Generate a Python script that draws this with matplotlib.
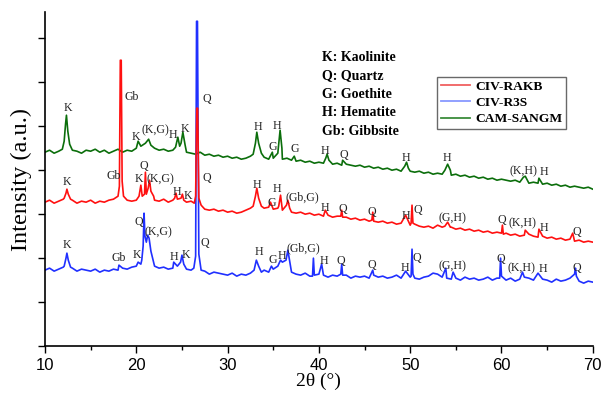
import numpy as np
import matplotlib
matplotlib.use('Agg')
import matplotlib.pyplot as plt
from matplotlib.lines import Line2D

# 2-theta grid for the baseline readings (every 0.5 deg)
two_theta = np.arange(10.0, 70.01, 0.5)

# baselines (arbitrary units, traces already offset)
green_base = [194, 196, 193, 195, 197, 194, 196, 195, 193, 196,
              195, 197, 194, 196, 193, 195, 197, 194, 196, 195,
              198, 200, 203, 201, 198, 196, 197, 195, 196, 199,
              197, 194, 193, 192, 194, 191, 192, 190, 191, 189,
              190, 188, 189, 187, 188, 190, 187, 188, 189, 187,
              188, 186, 187, 188, 186, 185, 186, 184, 185, 183,
              184, 183, 184, 182, 183, 181, 182, 181, 180, 181,
              179, 180, 178, 179, 177, 178, 176, 177, 175, 176,
              175, 174, 175, 173, 174, 172, 173, 172, 173, 171,
              172, 170, 171, 169, 170, 168, 169, 167, 168, 166,
              167, 166, 165, 166, 164, 165, 163, 164, 163, 162,
              163, 161, 162, 160, 161, 159, 160, 159, 158, 159,
              157]
red_base = [144, 146, 143, 145, 147, 144, 146, 143, 145, 144,
            146, 143, 145, 144, 146, 147, 145, 144, 146, 145,
            146, 148, 150, 147, 146, 145, 147, 144, 146, 148,
            146, 144, 145, 140, 138, 137, 136, 137, 135, 136,
            134, 135, 133, 134, 136, 138, 137, 140, 138, 139,
            137, 138, 136, 137, 134, 133, 134, 132, 133, 131,
            132, 130, 131, 129, 130, 128, 129, 127, 128, 126,
            127, 125, 126, 124, 125, 123, 124, 122, 123, 122,
            121, 122, 120, 119, 120, 118, 121, 119, 118, 119,
            117, 118, 116, 117, 115, 116, 114, 115, 113, 114,
            112, 113, 111, 112, 110, 111, 112, 110, 109, 110,
            108, 109, 107, 108, 106, 107, 105, 106, 104, 105,
            104]
blue_base = [76, 78, 75, 77, 79, 76, 78, 75, 77, 76,
             75, 77, 74, 76, 75, 77, 76, 78, 77, 79,
             80, 82, 88, 86, 80, 78, 79, 77, 78, 80,
             80, 77, 76, 74, 73, 75, 72, 74, 73, 72,
             71, 73, 70, 72, 71, 73, 76, 78, 76, 74,
             77, 80, 84, 78, 74, 72, 71, 73, 70, 71,
             72, 71, 69, 71, 70, 69, 71, 68, 70, 69,
             70, 68, 71, 69, 70, 68, 69, 71, 68, 70,
             69, 68, 67, 69, 70, 73, 72, 69, 68, 67,
             68, 66, 69, 67, 68, 66, 67, 69, 66, 68,
             67, 66, 68, 65, 67, 69, 68, 66, 65, 67,
             66, 64, 67, 65, 66, 68, 67, 65, 63, 65,
             64]

# peaks: each is a list of (2theta, intensity)
green_peaks = [
    [(11.9, 197), (12.1, 205), (12.25, 222), (12.35, 231), (12.5, 215), (12.7, 202), (12.9, 198)],
    [(20.2, 205)], [(21.35, 207), (21.6, 201)],
    [(24.3, 199), (24.55, 209), (24.75, 200)],
    [(24.9, 203), (25.1, 214), (25.35, 201)],
    [(32.8, 192), (33.05, 203), (33.2, 214), (33.4, 203), (33.7, 193)],
    [(34.9, 194)],
    [(35.5, 193), (35.75, 216), (35.95, 198)],
    [(37.3, 190)],
    [(40.75, 188), (40.9, 192), (41.1, 186)],
    [(42.6, 186)],
    [(49.4, 180), (49.6, 184), (49.8, 178)],
    [(53.8, 176), (54.1, 182), (54.4, 176)],
    [(62.4, 169), (62.6, 170)],
    [(64.1, 168)],
]
red_peaks = [
    [(12.1, 148), (12.3, 153), (12.4, 157), (12.55, 152), (12.8, 147)],
    [(18.0, 150), (18.15, 160), (18.25, 286), (18.35, 286), (18.45, 165), (18.6, 150)],
    [(20.3, 150), (20.5, 161), (20.65, 150), (20.9, 152), (21.0, 174), (21.1, 152),
     (21.3, 158), (21.45, 166), (21.6, 155), (21.9, 150)],
    [(24.2, 148), (24.35, 153), (24.5, 147)],
    [(24.9, 148), (25.05, 152), (25.2, 146)],
    [(26.35, 143), (26.5, 150), (26.62, 238), (26.72, 238), (26.85, 148), (27.1, 141)],
    [(32.8, 140), (33.05, 150), (33.2, 158), (33.4, 148), (33.7, 140)],
    [(34.7, 144)],
    [(35.6, 140), (35.8, 151), (35.95, 140)],
    [(36.45, 141), (36.6, 146), (36.8, 138)],
    [(40.7, 136)],
    [(42.4, 130), (42.5, 136), (42.6, 129)],
    [(45.8, 126), (45.9, 134), (46.0, 125)],
    [(49.5, 131)],
    [(50.1, 123), (50.2, 141), (50.3, 123)],
    [(53.8, 120), (54.1, 124), (54.4, 119)],
    [(60.0, 113), (60.1, 121), (60.2, 112)],
    [(62.6, 116)],
    [(64.1, 117)],
    [(67.8, 113)],
]
blue_peaks = [
    [(12.1, 80), (12.3, 88), (12.4, 93), (12.55, 86), (12.8, 79)],
    [(18.1, 81)],
    [(20.2, 84)],
    [(20.6, 86), (20.75, 100), (20.85, 133), (20.95, 110), (21.1, 104), (21.25, 111),
     (21.4, 108), (21.6, 95), (21.9, 84)],
    [(24.1, 84)],
    [(24.85, 84), (25.0, 91), (25.2, 82)],
    [(26.3, 78), (26.5, 90), (26.6, 325), (26.7, 325), (26.85, 92), (27.1, 76)],
    [(32.9, 76), (33.15, 86), (33.4, 80), (33.7, 74)],
    [(34.8, 80)],
    [(35.8, 86)],
    [(36.4, 86), (36.6, 96), (36.85, 82)],
    [(39.3, 70), (39.4, 88), (39.5, 71)],
    [(40.3, 82)],
    [(42.4, 72), (42.5, 82), (42.6, 71)],
    [(45.9, 76)],
    [(49.5, 75)],
    [(50.1, 70), (50.2, 97), (50.3, 72)],
    [(53.9, 78)], [(54.7, 74)],
    [(59.8, 68), (59.9, 88), (60.0, 70)],
    [(62.3, 74)],
    [(64.0, 73)],
    [(68.0, 72), (68.1, 78), (68.2, 70)],
]

# phase labels: (2theta, intensity, text)
green_labels = [(12.5, 238, 'K'), (19.9, 209, 'K'), (22.1, 216, '(K,G)'), (24.0, 211, 'H'),
                (25.35, 217, 'K'), (33.35, 219, 'H'), (34.9, 199, 'G'), (35.4, 220, 'H'),
                (37.4, 197, 'G'), (40.7, 195, 'H'), (42.7, 191, 'Q'), (49.5, 188, 'H'),
                (54.0, 188, 'H'), (62.4, 175, '(K,H)'), (64.7, 174, 'H')]
red_labels = [(19.5, 249, 'Gb'), (27.75, 247, 'Q'), (12.4, 164, 'K'), (17.55, 170, 'Gb'),
              (20.3, 167, 'K'), (20.85, 180, 'Q'), (22.6, 167, '(K,G)'), (24.5, 154, 'H'),
              (25.6, 150, 'K'), (27.75, 168, 'Q'), (33.2, 161, 'H'), (34.8, 143, 'G'),
              (35.4, 157, 'H'), (38.2, 149, '(Gb,G)'), (40.7, 138, 'H'), (42.6, 137, 'Q'),
              (45.85, 134, 'Q'), (49.5, 130, 'H'), (50.8, 136, 'Q'), (54.6, 128, '(G,H)'),
              (60.0, 126, 'Q'), (62.3, 123, '(K,H)'), (64.6, 118, 'H'), (68.3, 114, 'Q')]
blue_labels = [(12.4, 101, 'K'), (18.1, 88, 'Gb'), (20.05, 91, 'K'), (20.3, 124, 'Q'),
               (22.4, 114, '(K,G)'), (24.15, 89, 'H'), (25.4, 91, 'K'), (27.45, 103, 'Q'),
               (33.4, 94, 'H'), (34.9, 86, 'G'), (36.0, 90, 'H'), (38.3, 98, '(Gb,G)'),
               (40.5, 85, 'H'), (42.4, 85, 'Q'), (45.85, 81, 'Q'), (49.4, 78, 'H'),
               (50.7, 88, 'Q'), (54.6, 80, '(G,H)'), (59.9, 87, 'Q'), (62.2, 78, '(K,H)'),
               (64.5, 77, 'H'), (68.3, 78, 'Q')]

key_lines = ['K: Kaolinite', 'Q: Quartz', 'G: Goethite', 'H: Hematite', 'Gb: Gibbsite']
series_names = ['CIV-RAKB', 'CIV-R3S', 'CAM-SANGM']


def merge(base, peaks):
    xs = list(two_theta)
    ys = list(base)
    keep = np.ones(len(xs), bool)
    for pk in peaks:
        lo, hi = pk[0][0], pk[-1][0]
        for i, x in enumerate(xs):
            if lo - 1e-9 <= x <= hi + 1e-9:
                keep[i] = False
    pts = [(x, y) for x, y, k in zip(xs, ys, keep) if k]
    for pk in peaks:
        pts.extend(pk)
    pts.sort()
    return np.array([p[0] for p in pts]), np.array([p[1] for p in pts])


serif = 'Liberation Serif'
fig = plt.figure(figsize=(6.08, 3.96), dpi=100)
ax = fig.add_axes([0.074, 0.126, 0.901, 0.843])

gx, gy = merge(green_base, green_peaks)
bx, by = merge(blue_base, blue_peaks)
rx, ry = merge(red_base, red_peaks)
ax.plot(gx, gy, color='#0b6e0b', lw=1.2)
ax.plot(bx, by, color='#2030ff', lw=1.2)
ax.plot(rx, ry, color='#ff1010', lw=1.2)

for labels in (green_labels, red_labels, blue_labels):
    for x, y, t in labels:
        ax.text(x, y, t, ha='center', va='center', fontsize=8.6, family=serif, color='#222222')

for i, t in enumerate(key_lines):
    ax.text(40.3, 289 - i * 18.5, t, ha='left', va='center', fontsize=10,
            family=serif, fontweight='bold')

handles = [Line2D([], [], color='#f06060', lw=1.3),
           Line2D([], [], color='#8898ff', lw=1.3),
           Line2D([], [], color='#3c8c3c', lw=1.3)]
leg = ax.legend(handles, series_names, loc='upper left', bbox_to_anchor=(0.716, 0.807),
                prop={'family': serif, 'weight': 'bold', 'size': 9.7}, frameon=True,
                fancybox=False, handlelength=2.2, handletextpad=0.4, borderpad=0.25,
                labelspacing=0.3, borderaxespad=0)
leg.get_frame().set_edgecolor('#444444')
leg.get_frame().set_linewidth(1.0)

ax.set_xlim(10, 70)
ax.set_ylim(0, 334)
ax.set_xticks(np.arange(10, 71, 10))
ax.set_xticks(np.arange(15, 70, 10), minor=True)
ax.set_yticks(np.arange(0, 330, 44))
ax.set_yticklabels([])
ax.tick_params(axis='x', which='major', direction='out', length=5, width=1, labelsize=12)
ax.tick_params(axis='x', which='minor', direction='out', length=3, width=1)
ax.tick_params(axis='y', which='major', direction='out', length=5, width=1)
for lab in ax.get_xticklabels():
    lab.set_family('Liberation Sans')
ax.spines['top'].set_visible(False)
ax.spines['right'].set_visible(False)
ax.spines['left'].set_linewidth(1.2)
ax.spines['bottom'].set_linewidth(1.2)

ax.set_xlabel('2θ (°)', family=serif, fontsize=14, labelpad=0)
ax.set_ylabel('Intensity (a.u.)', family=serif, fontsize=17.5, labelpad=1)

fig.savefig('out.png', dpi=100)
